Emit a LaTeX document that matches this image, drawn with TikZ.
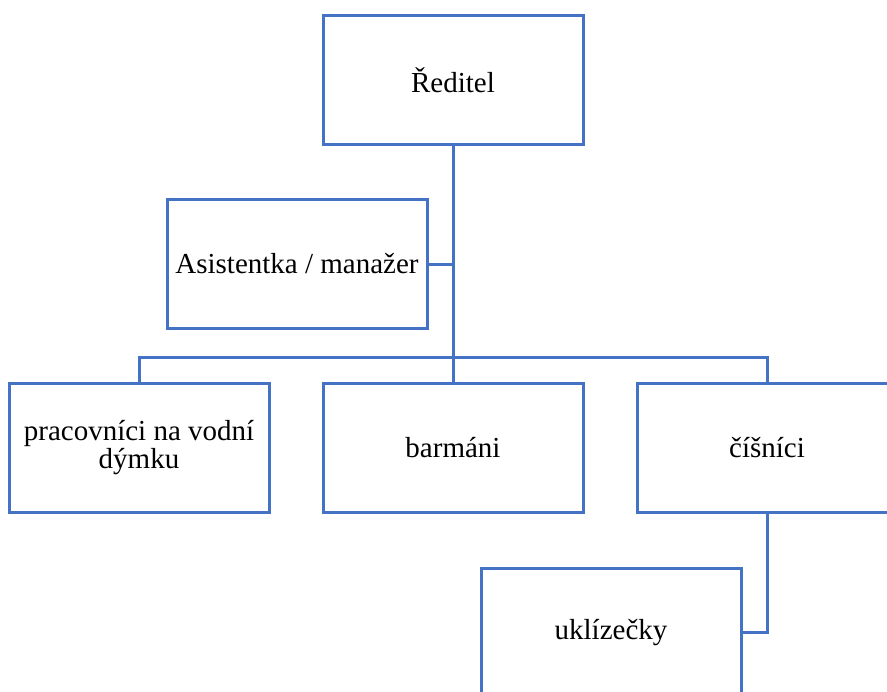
\documentclass[tikz,border=0pt]{standalone}
\usepackage{fontspec}
\setmainfont{Liberation Serif}
\usepackage{tikz}
\usetikzlibrary{positioning}
\definecolor{orgblue}{HTML}{4472C4}
\tikzset{
  orgbox/.style={draw=orgblue, line width=1.5pt, fill=white, minimum width=130pt, minimum height=64.5pt, align=center, inner sep=2pt},
  orgline/.style={draw=orgblue, line width=1.5pt}
}
\begin{document}
\begin{tikzpicture}[x=0.5pt, y=-0.5pt, every node/.style={font=\fontsize{14.5}{14}\selectfont}]
  \useasboundingbox (0,0) rectangle (887,691);
  \clip (0,0) rectangle (887,691);
  \coordinate (bus) at (453,357);
  \node[orgbox] (reditel) at (453,80) {Ředitel};
  \node[orgbox] (asistentka) at (297,264) {Asistentka / manažer};
  \node[orgbox] (pracovnici) at (139,447.5) {pracovníci na vodní\\dýmku};
  \node[orgbox] (barmani) at (453,447.5) {barmáni};
  \node[orgbox] (cisnici) at (767,447.5) {číšníci};
  \node[orgbox] (uklizecky) at (611,632.5) {uklízečky};
  \draw[orgline] (reditel.south) -- (bus);
  \draw[orgline] (asistentka.east) -- (asistentka.east -| bus);
  \draw[orgline] (pracovnici.north) |- (bus) -| (cisnici.north);
  \draw[orgline] (bus) -- (barmani.north);
  \draw[orgline] (cisnici.south) |- (uklizecky.east);
\end{tikzpicture}
\end{document}
